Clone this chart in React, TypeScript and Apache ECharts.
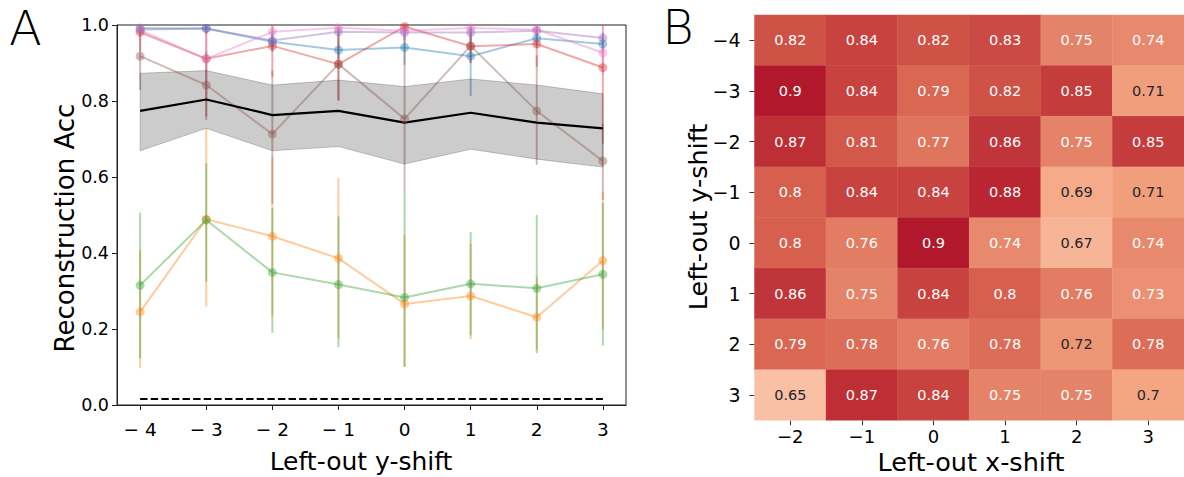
import React, { useEffect, useRef } from "react";
import * as echarts from "echarts";

// ---------- Panel A data ----------
const shifts = [-4, -3, -2, -1, 0, 1, 2, 3];
const seriesColors = ["#1f77b4", "#ff7f0e", "#2ca02c", "#d62728", "#9467bd", "#8c564b", "#e377c2"];

const blueMean = [0.988, 0.991, 0.956, 0.934, 0.941, 0.918, 0.965, 0.95];
const blueLo = [0.975, 0.975, 0.93, 0.91, 0.895, 0.813, 0.94, 0.93];
const blueHi = [1.0, 1.0, 0.98, 0.96, 0.99, 1.0, 0.99, 0.97];

const orangeMean = [0.245, 0.489, 0.444, 0.386, 0.266, 0.287, 0.231, 0.38];
const orangeLo = [0.097, 0.259, 0.235, 0.175, 0.1, 0.173, 0.145, 0.2];
const orangeHi = [0.408, 0.728, 0.653, 0.597, 0.447, 0.425, 0.338, 0.56];

const greenMean = [0.315, 0.487, 0.349, 0.317, 0.283, 0.319, 0.307, 0.344];
const greenLo = [0.123, 0.325, 0.19, 0.152, 0.101, 0.183, 0.136, 0.156];
const greenHi = [0.506, 0.636, 0.518, 0.496, 0.557, 0.455, 0.5, 0.532];

const redMean = [0.981, 0.911, 0.945, 0.897, 0.996, 0.944, 0.95, 0.888];
const redLo = [0.93, 0.759, 0.864, 0.803, 0.95, 0.9, 0.89, 0.688];
const redHi = [1.0, 1.0, 1.0, 0.99, 1.0, 0.99, 1.0, 1.0];

const purpleMean = [0.992, 0.991, 0.959, 0.982, 0.98, 0.98, 0.985, 0.966];
const purpleLo = [0.98, 0.98, 0.93, 0.96, 0.96, 0.95, 0.96, 0.95];
const purpleHi = [1.0, 1.0, 0.985, 1.0, 1.0, 1.0, 1.0, 0.98];

const brownMean = [0.918, 0.842, 0.713, 0.897, 0.753, 0.945, 0.774, 0.642];
const brownLo = [0.829, 0.75, 0.53, 0.8, 0.557, 0.9, 0.632, 0.54];
const brownHi = [1.0, 0.93, 0.88, 0.99, 0.95, 0.99, 0.92, 0.74];

const pinkMean = [0.987, 0.911, 0.982, 0.993, 0.985, 0.992, 0.988, 0.927];
const pinkLo = [0.96, 0.8, 0.95, 0.98, 0.97, 0.97, 0.96, 0.87];
const pinkHi = [1.0, 1.0, 1.0, 1.0, 1.0, 1.0, 1.0, 0.98];

const avgLine = [0.774, 0.804, 0.763, 0.774, 0.743, 0.769, 0.743, 0.728];
const bandLo = [0.669, 0.728, 0.669, 0.68, 0.634, 0.673, 0.647, 0.626];
const bandHi = [0.873, 0.88, 0.842, 0.855, 0.838, 0.858, 0.842, 0.819];
const chanceLevel = [0.0156, 0.0156, 0.0156, 0.0156, 0.0156, 0.0156, 0.0156, 0.0156];

const yTicksA = [0, 0.2, 0.4, 0.6, 0.8, 1.0];

// ---------- Panel B data ----------
const xShiftLabels = ["-2", "-1", "0", "1", "2", "3"];
const yShiftLabels = ["-4", "-3", "-2", "-1", "0", "1", "2", "3"];
const heatRowM4 = [0.82, 0.84, 0.82, 0.83, 0.75, 0.74];
const heatRowM3 = [0.9, 0.84, 0.79, 0.82, 0.85, 0.71];
const heatRowM2 = [0.87, 0.81, 0.77, 0.86, 0.75, 0.85];
const heatRowM1 = [0.8, 0.84, 0.84, 0.88, 0.69, 0.71];
const heatRow0 = [0.8, 0.76, 0.9, 0.74, 0.67, 0.74];
const heatRow1 = [0.86, 0.75, 0.84, 0.8, 0.76, 0.73];
const heatRow2 = [0.79, 0.78, 0.76, 0.78, 0.72, 0.78];
const heatRow3 = [0.65, 0.87, 0.84, 0.75, 0.75, 0.7];
const heatRows = [heatRowM4, heatRowM3, heatRowM2, heatRowM1, heatRow0, heatRow1, heatRow2, heatRow3];

const rdBuR = ["#053061", "#2166ac", "#4393c3", "#92c5de", "#d1e5f0", "#f7f7f7", "#fddbc7", "#f4a582", "#d6604d", "#b2182b", "#67001f"];

function rgba(hex: string, a: number) {
  const r = parseInt(hex.slice(1, 3), 16);
  const g = parseInt(hex.slice(3, 5), 16);
  const b = parseInt(hex.slice(5, 7), 16);
  return `rgba(${r},${g},${b},${a})`;
}

const minusFmt = (v: number | string) => {
  const n = Number(v);
  return n < 0 ? "\u2212" + Math.abs(n) : String(n);
};

export default function App() {
  const ref = useRef<HTMLDivElement>(null);
  useEffect(() => {
    if (!ref.current) return;
    const chart = echarts.init(ref.current, undefined, { renderer: "svg" });
    const FONT = "DejaVu Sans";
    const ALPHA = 0.4;

    const groups = [
      { color: seriesColors[0], mean: blueMean, lo: blueLo, hi: blueHi },
      { color: seriesColors[1], mean: orangeMean, lo: orangeLo, hi: orangeHi },
      { color: seriesColors[2], mean: greenMean, lo: greenLo, hi: greenHi },
      { color: seriesColors[3], mean: redMean, lo: redLo, hi: redHi },
      { color: seriesColors[4], mean: purpleMean, lo: purpleLo, hi: purpleHi },
      { color: seriesColors[5], mean: brownMean, lo: brownLo, hi: brownHi },
      { color: seriesColors[6], mean: pinkMean, lo: pinkLo, hi: pinkHi },
    ];

    const series: any[] = [];
    groups.forEach((g) => {
      const c = rgba(g.color, ALPHA);
      series.push({
        type: "custom",
        xAxisIndex: 0,
        yAxisIndex: 0,
        data: shifts.map((x, i) => [x, g.lo[i], g.hi[i]]),
        encode: { x: 0, y: [1, 2] },
        renderItem: (params: any, api: any) => {
          const p1 = api.coord([api.value(0), api.value(1)]);
          const p2 = api.coord([api.value(0), api.value(2)]);
          return {
            type: "line",
            shape: { x1: p1[0], y1: p1[1], x2: p2[0], y2: p2[1] },
            style: { stroke: c, lineWidth: 2 },
          };
        },
        silent: true,
      });
      series.push({
        type: "line",
        xAxisIndex: 0,
        yAxisIndex: 0,
        data: shifts.map((x, i) => [x, g.mean[i]]),
        symbol: "circle",
        symbolSize: 9,
        lineStyle: { color: c, width: 2 },
        itemStyle: { color: c, borderWidth: 0 },
        silent: true,
      });
    });

    // band
    series.push({
      type: "custom",
      xAxisIndex: 0,
      yAxisIndex: 0,
      data: shifts.map((x, i) => [x, bandLo[i], bandHi[i]]),
      encode: { x: 0, y: [1, 2] },
      renderItem: (params: any, api: any) => {
        if (params.dataIndex !== 0) return { type: "group", children: [] };
        const pts: number[][] = [];
        shifts.forEach((x, i) => pts.push(api.coord([x, bandHi[i]])));
        for (let i = shifts.length - 1; i >= 0; i--) pts.push(api.coord([shifts[i], bandLo[i]]));
        return {
          type: "polygon",
          shape: { points: pts },
          style: { fill: "rgba(0,0,0,0.2)", stroke: "rgba(0,0,0,0.2)", lineWidth: 1 },
        };
      },
      silent: true,
    });
    series.push({
      type: "line",
      xAxisIndex: 0,
      yAxisIndex: 0,
      data: shifts.map((x, i) => [x, avgLine[i]]),
      symbol: "none",
      lineStyle: { color: "#000", width: 2.2 },
      silent: true,
    });
    series.push({
      type: "line",
      xAxisIndex: 0,
      yAxisIndex: 0,
      data: shifts.map((x, i) => [x, chanceLevel[i]]),
      symbol: "none",
      lineStyle: { color: "#000", width: 2, type: [7.4, 3.2] },
      silent: true,
    });

    const heatData: any[] = [];
    heatRows.forEach((row, yi) => {
      row.forEach((v, xi) => {
        heatData.push({
          value: [xi, yi, v],
          label: { color: v < 0.725 ? "#262626" : "#ffffff" },
        });
      });
    });
    const heatIndex = series.length;
    series.push({
      type: "heatmap",
      xAxisIndex: 1,
      yAxisIndex: 1,
      data: heatData,
      label: {
        show: true,
        fontFamily: FONT,
        fontSize: 14.5,
        formatter: (p: any) => String(p.value[2]),
      },
      itemStyle: { borderColor: "rgba(255,255,255,0.12)", borderWidth: 0.5 },
      emphasis: { disabled: true },
      silent: true,
    });

    const tickLbl = { fontFamily: FONT, color: "#000" };

    chart.setOption({
      animation: false,
      backgroundColor: "#fff",
      grid: [
        { left: 117, top: 25, width: 509, height: 380, show: true, borderColor: "#222", borderWidth: 1, backgroundColor: "transparent" },
        { left: 754.5, top: 15, width: 434, height: 405.3 },
      ],
      xAxis: [
        {
          type: "value",
          gridIndex: 0,
          min: -4.35,
          max: 3.35,
          splitLine: { show: false },
          axisLine: { show: true, onZero: false, lineStyle: { color: "#222", width: 1 } },
          axisTick: { show: true, length: 5, lineStyle: { color: "#222" }, customValues: shifts },
          axisLabel: { ...tickLbl, fontSize: 18.5, margin: 15, customValues: shifts, formatter: (v: number) => (v < 0 ? "\u2212 " + Math.abs(v) : String(v)) },
        },
        {
          type: "category",
          gridIndex: 1,
          data: xShiftLabels,
          axisLine: { show: false },
          axisTick: { show: true, length: 5, alignWithLabel: true, lineStyle: { color: "#333" } },
          axisLabel: { ...tickLbl, fontSize: 18, margin: 7, formatter: minusFmt },
          splitLine: { show: false },
        },
      ],
      yAxis: [
        {
          type: "value",
          gridIndex: 0,
          min: 0,
          max: 1,
          interval: 0.2,
          splitLine: { show: false },
          axisLine: { show: true, onZero: false, lineStyle: { color: "#222", width: 1 } },
          axisTick: { show: true, length: 5, lineStyle: { color: "#222" }, customValues: yTicksA },
          axisLabel: { ...tickLbl, fontSize: 17.5, margin: 8, customValues: yTicksA, formatter: (v: number) => v.toFixed(1) },
        },
        {
          type: "category",
          gridIndex: 1,
          data: yShiftLabels,
          inverse: true,
          axisLine: { show: false },
          axisTick: { show: true, length: 5, alignWithLabel: true, lineStyle: { color: "#333" } },
          axisLabel: { ...tickLbl, fontSize: 19, margin: 14, formatter: minusFmt },
          splitLine: { show: false },
        },
      ],
      visualMap: {
        show: false,
        type: "continuous",
        min: 0,
        max: 1,
        dimension: 2,
        seriesIndex: heatIndex,
        inRange: { color: rdBuR },
      },
      graphic: [
        { type: "text", x: 25.5, y: 27.5, style: { text: "A", font: `200 48px "${FONT}"`, fill: "#000", textAlign: "center", textVerticalAlign: "middle" } },
        { type: "text", x: 678, y: 26.5, style: { text: "B", font: `200 48px "${FONT}"`, fill: "#000", textAlign: "center", textVerticalAlign: "middle" } },
        { type: "text", x: 65, y: 228, rotation: Math.PI / 2, style: { text: "Reconstruction Acc", font: `26px "${FONT}"`, fill: "#000", textAlign: "center", textVerticalAlign: "middle" } },
        { type: "text", x: 361, y: 461, style: { text: "Left-out y-shift", font: `25px "${FONT}"`, fill: "#000", textAlign: "center", textVerticalAlign: "middle" } },
        { type: "text", x: 698, y: 217, rotation: Math.PI / 2, style: { text: "Left-out y-shift", font: `25.5px "${FONT}"`, fill: "#000", textAlign: "center", textVerticalAlign: "middle" } },
        { type: "text", x: 971, y: 461.5, style: { text: "Left-out x-shift", font: `25.5px "${FONT}"`, fill: "#000", textAlign: "center", textVerticalAlign: "middle" } },
      ],
      series,
    });
    return () => chart.dispose();
  }, []);
  return <div ref={ref} style={{ position: "absolute", left: 0, top: 0, width: 1184, height: 477 }} />;
}
